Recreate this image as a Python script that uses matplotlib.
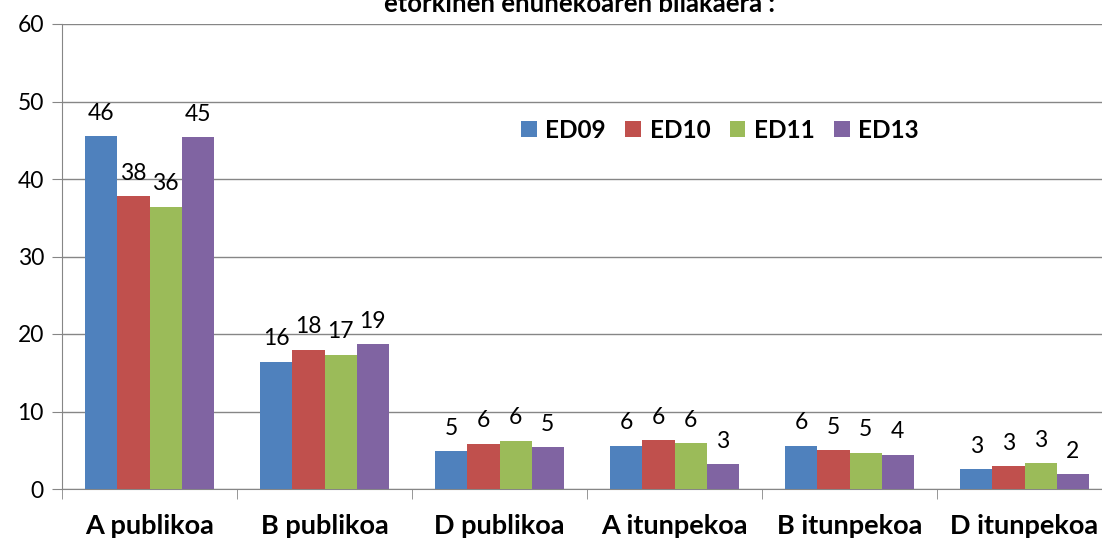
import matplotlib
import numpy as np

matplotlib.use('Agg')
import matplotlib.pyplot as plt
from matplotlib.patches import Patch

plt.rcParams['font.family'] = ['Lato', 'DejaVu Sans']

categories = ['A publikoa', 'B publikoa', 'D publikoa', 'A itunpekoa', 'B itunpekoa', 'D itunpekoa']
series_names = ['ED09', 'ED10', 'ED11', 'ED13']
ed09 = [45.5, 16.4, 4.9, 5.6, 5.55, 2.55]
ed10 = [37.8, 18.0, 5.85, 6.3, 5.0, 2.95]
ed11 = [36.4, 17.3, 6.2, 5.9, 4.7, 3.3]
ed13 = [45.4, 18.7, 5.4, 3.2, 4.4, 1.9]
colors = ['#4F81BD', '#C0504D', '#9BBB59', '#8064A2']
yticks = [0, 10, 20, 30, 40, 50, 60]

fig = plt.figure(figsize=(11.02, 5.4), dpi=100)
ax = fig.add_axes([62 / 1102, 51 / 540, 1050 / 1102, 465 / 540])

x = np.arange(len(categories))
width = 0.183
for i, (vals, col) in enumerate(zip([ed09, ed10, ed11, ed13], colors)):
    pos = x + (i - 1.5) * width
    ax.bar(pos, vals, width=width, color=col, edgecolor='none', zorder=3)
    for xp, v in zip(pos, vals):
        ax.annotate(f'{int(v + 0.5):d}', xy=(xp, v), xytext=(0, 9), textcoords='offset points',
                    ha='center', va='bottom', fontsize=16.5, color='#000000')

ax.set_xlim(-0.5, len(categories) - 0.5)
ax.set_ylim(0, 60)
ax.set_yticks(yticks)
ax.tick_params(axis='y', labelsize=16.5, length=7, color='#868686', pad=6)
ax.grid(axis='y', color='#868686', linewidth=1, zorder=0)

ax.set_xticks(x)
ax.set_xticklabels(categories, fontsize=19.5, fontweight='bold')
ax.set_xticks(np.arange(len(categories) + 1) - 0.5, minor=True)
ax.tick_params(axis='x', which='major', length=0, pad=18)
ax.tick_params(axis='x', which='minor', length=7, color='#868686')

for side in ['top', 'right']:
    ax.spines[side].set_visible(False)
for side in ['left', 'bottom']:
    ax.spines[side].set_color('#868686')

handles = [Patch(facecolor=c, edgecolor='none') for c in colors]
leg = ax.legend(handles, series_names, loc='center', bbox_to_anchor=((720 - 62) / 1050, (540 - 130 - 51) / 465),
                ncol=4, frameon=False, prop={'weight': 'bold', 'size': 17.5},
                handlelength=0.65, handleheight=0.65, handletextpad=0.35, columnspacing=0.8)

fig.text(580 / 1102, (540 - 12) / 540, 'etorkinen ehunekoaren bilakaera :', ha='center', va='baseline',
         fontsize=18.5, fontweight='bold')

fig.savefig('out.png', dpi=100)
plt.close(fig)
